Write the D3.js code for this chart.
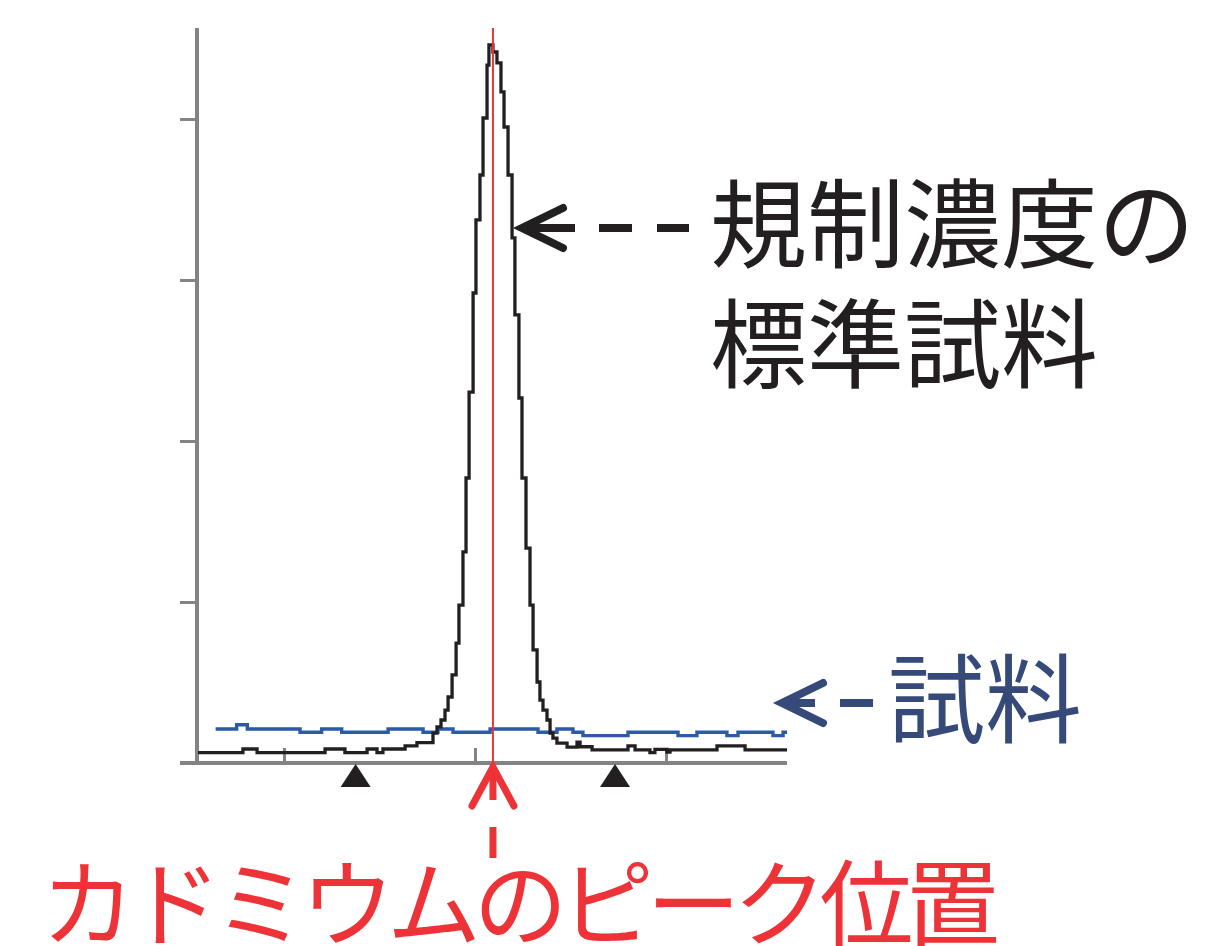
<!DOCTYPE html>
<html>
<head>
<meta charset="utf-8">
<script src="https://cdn.jsdelivr.net/npm/d3@7"></script>
<style>
  html, body { margin: 0; padding: 0; background: #fff; }
  svg { display: block; }
  text { font-family: "Noto Sans CJK JP", "Noto Sans CJK SC", sans-serif; }
</style>
</head>
<body>
<svg id="chart" width="1224" height="946"></svg>
<script>
// ---- data (energy in keV, counts) ----
const stdEnergy = [21.55, 21.785, 21.859, 22.215, 22.319, 22.435, 22.487, 22.518, 22.634, 22.696,
  22.780, 22.801, 22.822, 22.843, 22.859, 22.880, 22.901, 22.916, 22.937, 22.953,
  22.969, 22.990, 23.005, 23.026, 23.042, 23.063, 23.073, 23.094, 23.115, 23.136,
  23.152, 23.173, 23.194, 23.209, 23.230, 23.246, 23.267, 23.288, 23.304, 23.325,
  23.340, 23.356, 23.377, 23.393, 23.408, 23.429, 23.482, 23.534, 23.550, 23.613,
  23.801, 23.838, 23.916, 23.942, 24.005, 24.021, 24.267, 24.414, 24.634];
const stdCounts = [64, 87, 64, 87, 64, 87, 64, 87, 106, 127,
  186, 224, 267, 329, 410, 547, 745, 981, 1311, 1770,
  2304, 2919, 3373, 3652, 4006, 4335, 4460, 4416, 4348, 4168,
  3950, 3652, 3261, 2783, 2267, 1770, 1335, 981, 702, 503,
  391, 329, 267, 186, 155, 124, 99, 130, 101, 81,
  106, 81, 64, 85, 68, 81, 106, 81, 81];

const sampleEnergy = [21.642, 21.752, 21.808, 22.084, 22.197, 22.302, 22.545, 22.728, 22.806, 22.885,
  23.079, 23.330, 23.429, 23.513, 23.565, 23.801, 24.063, 24.162, 24.319, 24.377,
  24.560, 24.613, 24.634];
const sampleCounts = [211, 238, 211, 191, 211, 191, 211, 191, 211, 191,
  211, 191, 211, 191, 170, 191, 170, 191, 170, 191,
  170, 191, 191];

const peakEnergy = [23.094];          // Cd peak position
const roiMarkers = [22.375, 23.733];  // region-of-interest markers
const xTicks = [22, 23, 24];
const yTicks = [1000, 2000, 3000, 4000];
const xDomain = [21.5445, 24.6335];
const yDomain = [0, 4565];

const labelStd = ["規制濃度の", "標準試料"];
const labelSample = "試料";
const labelPeak = "カドミウムのピーク位置";

// ---- layout ----
const svg = d3.select("#chart");
const x = d3.scaleLinear().domain(xDomain).range([197, 787]);
const y = d3.scaleLinear().domain(yDomain).range([763, 28]);

const AXIS = "#838386";
const BLACK = "#231f20";
const BLUE = "#2d5aa7";
const NAVY = "#354a78";
const RED = "#ee3338";

// y axis
const gy = svg.append("g").attr("transform", `translate(${x.range()[0]},0)`)
  .call(d3.axisLeft(y).tickValues(yTicks).tickSize(17).tickFormat(""));
gy.select(".domain").remove();
gy.selectAll(".tick line").attr("stroke", AXIS).attr("stroke-width", 3);
svg.append("line").attr("x1", x.range()[0]).attr("x2", x.range()[0])
  .attr("y1", y.range()[1]).attr("y2", y.range()[0])
  .attr("stroke", AXIS).attr("stroke-width", 4);

// x axis
const gx = svg.append("g").attr("transform", `translate(0,${y.range()[0]})`)
  .call(d3.axisBottom(x).tickValues(xTicks).tickSize(-15).tickFormat(""));
gx.select(".domain").remove();
gx.selectAll(".tick line").attr("stroke", AXIS).attr("stroke-width", 3);
svg.append("line").attr("x1", x.range()[0] - 17).attr("x2", x.range()[1])
  .attr("y1", y.range()[0]).attr("y2", y.range()[0])
  .attr("stroke", AXIS).attr("stroke-width", 4);

// series
const line = d3.line().x(d => x(d[0])).y(d => y(d[1])).curve(d3.curveStepAfter);
svg.append("path")
  .datum(d3.zip(sampleEnergy, sampleCounts))
  .attr("d", line).attr("fill", "none").attr("stroke", BLUE).attr("stroke-width", 3.4);
svg.append("path")
  .datum(d3.zip(stdEnergy, stdCounts))
  .attr("d", line).attr("fill", "none").attr("stroke", BLACK).attr("stroke-width", 3.3);

// peak line
svg.selectAll(".peak").data(peakEnergy).join("line")
  .attr("x1", d => x(d)).attr("x2", d => x(d))
  .attr("y1", y.range()[1]).attr("y2", y.range()[0])
  .attr("stroke", RED).attr("stroke-width", 2);

// ROI triangles
svg.selectAll(".roi").data(roiMarkers).join("path")
  .attr("d", d => {
    const cx = x(d), top = y.range()[0] + 1, bot = top + 23;
    return `M${cx},${top}L${cx + 15},${bot}L${cx - 15},${bot}Z`;
  })
  .attr("fill", BLACK);

// ---- annotations ----
function arrow(g, tipX, tipY, dir, color, dashes) {
  const sw = 8;
  if (dir === "left") {
    g.append("path").attr("d", `M${tipX + 41},${tipY - 20}L${tipX},${tipY}L${tipX + 41},${tipY + 20}`)
      .attr("fill", "none").attr("stroke", color).attr("stroke-width", sw)
      .attr("stroke-linecap", "round").attr("stroke-linejoin", "miter");
    dashes.forEach(([a, b]) => g.append("line")
      .attr("x1", tipX + a).attr("x2", tipX + b).attr("y1", tipY).attr("y2", tipY)
      .attr("stroke", color).attr("stroke-width", sw));
  } else {
    g.append("path").attr("d", `M${tipX - 21},${tipY + 39}L${tipX},${tipY}L${tipX + 21},${tipY + 39}`)
      .attr("fill", "none").attr("stroke", color).attr("stroke-width", 7)
      .attr("stroke-linecap", "round");
    dashes.forEach(([a, b]) => g.append("line")
      .attr("x1", tipX).attr("x2", tipX).attr("y1", tipY + a).attr("y2", tipY + b)
      .attr("stroke", color).attr("stroke-width", 7));
  }
}

const ann = svg.append("g");
// black arrow to standard peak
arrow(ann, 522, 228, "left", BLACK, [[4, 53], [77, 110], [135, 167]]);
ann.selectAll(".lstd").data(labelStd).join("text")
  .attr("x", 710).attr("y", (d, i) => 260 + i * 120)
  .attr("font-size", 97).attr("fill", BLACK).text(d => d);

// blue arrow to sample
arrow(ann, 782, 703, "left", NAVY, [[4, 33], [58, 91]]);
ann.append("text").attr("x", 888).attr("y", 735)
  .attr("font-size", 97).attr("fill", NAVY).text(labelSample);

// red arrow to peak position
arrow(ann, x(peakEnergy[0]), 767, "up", RED, [[2, 33], [60, 91]]);
ann.append("text").attr("x", 41).attr("y", 939)
  .attr("font-size", 94).attr("letter-spacing", -7.5).attr("fill", RED).text(labelPeak);
</script>
</body>
</html>
